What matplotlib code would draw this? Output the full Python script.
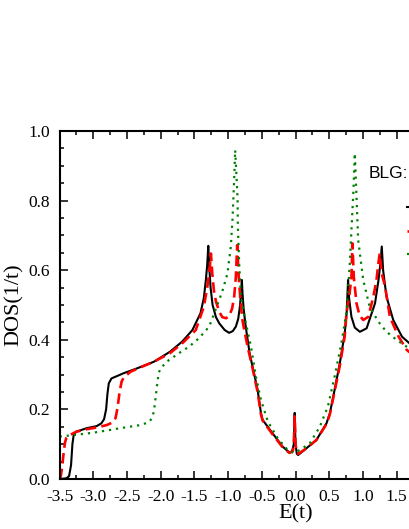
import matplotlib
matplotlib.use("Agg")
import matplotlib.pyplot as plt
from matplotlib.lines import Line2D
from matplotlib.ticker import MultipleLocator, FuncFormatter, FormatStrFormatter

plt.rcParams['font.family'] = ['Liberation Serif', 'DejaVu Serif']
plt.rcParams['axes.unicode_minus'] = False

# ---- data ----
black_E = [-3.50, -3.40, -3.36, -3.33, -3.31, -3.29, -3.25, -3.10, -2.95, -2.88, -2.84,
           -2.81, -2.79, -2.77, -2.73, -2.55, -2.35, -2.10, -1.86, -1.68, -1.53, -1.41,
           -1.36, -1.33, -1.31, -1.294, -1.28, -1.26, -1.23, -1.18, -1.13, -1.05, -0.985,
           -0.93, -0.885, -0.85, -0.825, -0.81, -0.796, -0.785, -0.77, -0.74, -0.71, -0.68,
           -0.637, -0.562, -0.512, -0.488, -0.339, -0.19, -0.09, -0.05, -0.025, -0.012,
           0.0, 0.02, 0.04, 0.16, 0.31, 0.46, 0.51, 0.58, 0.657, 0.73, 0.76, 0.78, 0.795,
           0.83, 0.88, 0.955, 1.055, 1.18, 1.23, 1.26, 1.28, 1.30, 1.35, 1.45, 1.58, 1.72]
black_D = [0.000, 0.002, 0.008, 0.040, 0.100, 0.128, 0.136, 0.146, 0.152, 0.160, 0.172,
           0.200, 0.245, 0.275, 0.289, 0.304, 0.318, 0.337, 0.366, 0.395, 0.428, 0.476,
           0.520, 0.572, 0.615, 0.670, 0.610, 0.550, 0.500, 0.465, 0.447, 0.428, 0.420,
           0.425, 0.438, 0.460, 0.495, 0.530, 0.572, 0.530, 0.490, 0.440, 0.400, 0.360,
           0.323, 0.256, 0.189, 0.170, 0.131, 0.093, 0.076, 0.080, 0.100, 0.190,
           0.100, 0.072, 0.069, 0.088, 0.112, 0.160, 0.189, 0.256, 0.332, 0.418, 0.480, 0.572, 0.520,
           0.466, 0.435, 0.423, 0.433, 0.505, 0.570, 0.620, 0.668, 0.600, 0.524, 0.457, 0.409, 0.385]

red_E = [-3.50, -3.48, -3.46, -3.44, -3.42, -3.40, -3.37, -3.25, -3.10, -2.95, -2.80, -2.72,
         -2.67, -2.64, -2.61, -2.58, -2.55, -2.45, -2.30, -2.10, -1.86, -1.68, -1.48, -1.36,
         -1.31, -1.275, -1.255, -1.235, -1.21, -1.18, -1.13, -1.085, -1.03, -0.985, -0.94,
         -0.91, -0.885, -0.865, -0.845, -0.82, -0.79, -0.76, -0.71, -0.637, -0.562, -0.512,
         -0.488, -0.339, -0.19, -0.09, -0.04, -0.025, -0.012, 0.0, 0.02, 0.04, 0.16, 0.31,
         0.46, 0.51, 0.58, 0.657, 0.73, 0.756, 0.80, 0.83, 0.845, 0.865, 0.905, 0.95, 1.005,
         1.08, 1.155, 1.20, 1.23, 1.25, 1.28, 1.33, 1.40, 1.53, 1.65, 1.72]
red_D = [0.000, 0.010, 0.040, 0.075, 0.105, 0.118, 0.124, 0.136, 0.143, 0.148, 0.155, 0.162,
         0.175, 0.205, 0.250, 0.280, 0.291, 0.308, 0.321, 0.337, 0.362, 0.390, 0.428, 0.495,
         0.550, 0.600, 0.648, 0.590, 0.540, 0.510, 0.480, 0.465, 0.462, 0.468, 0.490,
         0.524, 0.580, 0.672, 0.590, 0.520, 0.460, 0.428, 0.380, 0.318, 0.250, 0.185,
         0.168, 0.128, 0.091, 0.075, 0.080, 0.100, 0.180, 0.100, 0.075, 0.072, 0.088, 0.112,
         0.158, 0.186, 0.252, 0.325, 0.410, 0.476, 0.530, 0.580, 0.677, 0.580, 0.505, 0.470, 0.457,
         0.466, 0.524, 0.570, 0.620, 0.648, 0.590, 0.553, 0.466, 0.409, 0.371, 0.360]

green_E = [-3.50, -3.30, -3.00, -2.60, -2.30, -2.18, -2.13, -2.10, -2.08, -2.05, -2.03, -2.00,
           -1.905, -1.80, -1.68, -1.58, -1.43, -1.28, -1.16, -1.085, -1.01, -0.96, -0.935,
           -0.91, -0.895, -0.86, -0.855, -0.836, -0.81, -0.736, -0.66, -0.587, -0.512, -0.41,
           -0.264, -0.115, -0.03, 0.06, 0.21, 0.36, 0.48, 0.58, 0.68, 0.757, 0.806, 0.83,
           0.86, 0.88, 0.905, 0.93, 1.005, 1.10, 1.23, 1.35, 1.50, 1.65, 1.72]
green_D = [0.122, 0.126, 0.133, 0.146, 0.155, 0.163, 0.174, 0.195, 0.227, 0.275, 0.305, 0.318,
           0.338, 0.352, 0.368, 0.380, 0.405, 0.438, 0.500, 0.540, 0.590, 0.668, 0.744,
           0.860, 0.945, 0.810, 0.725, 0.620, 0.524, 0.447, 0.380, 0.294, 0.227, 0.165,
           0.117, 0.083, 0.075, 0.083, 0.102, 0.150, 0.208, 0.294, 0.390, 0.480, 0.620, 0.716,
           0.830, 0.936, 0.810, 0.687, 0.572, 0.495, 0.452, 0.423, 0.400, 0.380, 0.372]

legend_title = "BLG:"

# ---- figure ----
W, H = 409, 529
fig = plt.figure(figsize=(W / 100, H / 100), dpi=100)
x0, x1 = 59.6, 531.4
y0, y1 = 479, 131
ax = fig.add_axes([x0 / W, 1 - y0 / H, (x1 - x0) / W, (y0 - y1) / H])

ax.plot(black_E, black_D, color='black', lw=1.5, solid_joinstyle='round')
ax.plot(red_E, red_D, color='#ff0000', lw=1.9, ls=(0, (4.0, 2.0)))
ax.plot(green_E, green_D, color='#008000', lw=1.6, ls=(0, (1, 2.2)))

ax.set_xlim(-3.5, 3.5)
ax.set_ylim(0.0, 1.0)
ax.xaxis.set_major_locator(MultipleLocator(0.5))
ax.xaxis.set_minor_locator(MultipleLocator(0.25))
ax.yaxis.set_major_locator(MultipleLocator(0.2))
ax.yaxis.set_minor_locator(MultipleLocator(0.05))
# labels beyond the visible (cropped) part of the axis are left empty
ax.xaxis.set_major_formatter(FuncFormatter(lambda v, p: '%.1f' % v if v < 1.75 else ''))
ax.yaxis.set_major_formatter(FormatStrFormatter('%.1f'))
ax.tick_params(which='both', direction='in', top=True, right=True, width=1.1,
               labelsize=12.5)
ax.tick_params(which='major', length=6)
ax.tick_params(which='minor', length=3)
ax.tick_params(axis='x', pad=7)
ax.tick_params(axis='y', pad=7)
for s in ax.spines.values():
    s.set_linewidth(1.5)

ax.set_xlabel('E(t)', fontsize=16, labelpad=0)
ax.set_ylabel('DOS(1/t)', fontsize=16, labelpad=3)

# legend (cut off by the figure edge, as in the reference)
fig.text(369 / W, 1 - 174 / H, legend_title, family=['Liberation Sans', 'DejaVu Sans'],
         fontsize=12.5, va='center', ha='left')
for yy, c, ls, lw in [(207, 'black', '-', 1.5), (231, '#ff0000', (0, (4.0, 2.0)), 1.9),
                      (254, '#008000', (0, (1, 2.2)), 1.6)]:
    fig.add_artist(Line2D([407 / W, 460 / W], [1 - yy / H, 1 - yy / H], color=c, ls=ls,
                          lw=lw, transform=fig.transFigure))

fig.savefig('out.png', dpi=100)
